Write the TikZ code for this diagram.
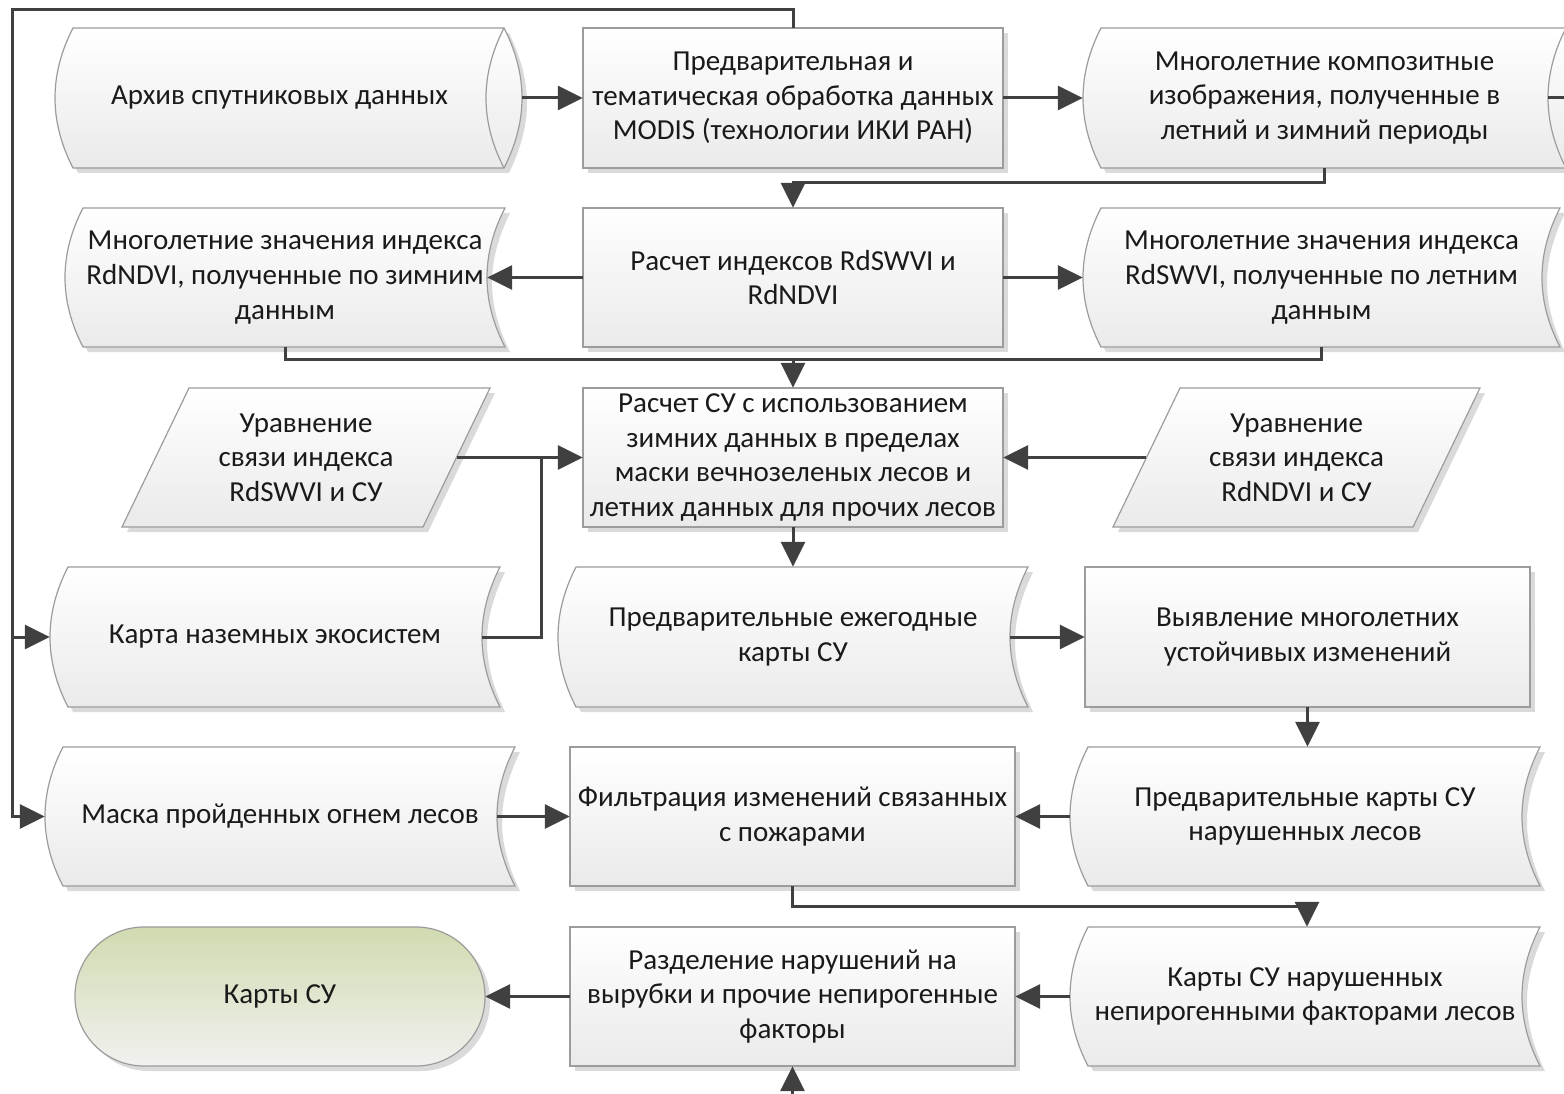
\documentclass[tikz,border=0pt]{standalone}
\usepackage{fontspec}
\setmainfont{Carlito}
\usetikzlibrary{arrows.meta,calc}
\definecolor{edgec}{HTML}{9C9C9C}
\definecolor{connc}{HTML}{404040}
\definecolor{botc}{HTML}{EAEAEA}
\definecolor{shadc}{HTML}{DADADA}
\definecolor{greentop}{HTML}{D0DBB0}
\definecolor{greenbot}{HTML}{F1F1EF}
\definecolor{txtc}{HTML}{1A1A1A}
\tikzset{
  conn/.style={draw=connc, line width=3pt},
  arr/.style={conn, -{Triangle[length=25pt,width=24pt]}},
  boxfill/.style={top color=white, bottom color=botc, draw=edgec, line width=1.2pt},
  shad/.style={fill=shadc},
  lbl/.style={inner sep=0pt, align=center, font=\fontsize{29}{34.7}\selectfont, text=txtc},
}
% rectangle: name x1 y1 x2 y2 text
\newcommand\mkrect[6]{%
  \pgfmathsetmacro\bw{#4-#2}\pgfmathsetmacro\bh{#5-#3}%
  \pgfmathsetmacro\cx{(#2+#4)/2}\pgfmathsetmacro\cy{(#3+#5)/2}%
  \fill[shad] ({#2+5},{#3+5}) rectangle ({#4+5},{#5+5});
  \path[boxfill] (#2,#3) rectangle (#4,#5);
  \node[lbl, minimum width=\bw pt, minimum height=\bh pt] (#1) at (\cx,\cy) {#6};
}
% stored data: convex left, concave right
\newcommand\storepath[4]{({#1+18},#2) -- (#3,#2) .. controls ({#3-24},{#2+(#4-#2)/3}) and ({#3-24},{#4-(#4-#2)/3}) .. (#3,#4) -- ({#1+18},#4) .. controls ({#1-6},{#4-(#4-#2)/3}) and ({#1-6},{#2+(#4-#2)/3}) .. ({#1+18},#2) -- cycle}
\newcommand\mkstore[6]{%
  \pgfmathsetmacro\bw{#4-#2}\pgfmathsetmacro\bh{#5-#3}%
  \pgfmathsetmacro\cx{(#2+#4)/2}\pgfmathsetmacro\cy{(#3+#5)/2}%
  \fill[shad] \storepath{#2+5}{#3+5}{#4+5}{#5+5};
  \path[boxfill] \storepath{#2}{#3}{#4}{#5};
  \node[lbl, minimum width=\bw pt, minimum height=\bh pt] (#1) at (\cx,\cy) {#6};
}
% horizontal cylinder: x2 = outer rightmost point
\newcommand\cylpath[4]{({#1+18},#2) -- ({#3-18},#2) .. controls ({#3+6},{#2+(#4-#2)/3}) and ({#3+6},{#4-(#4-#2)/3}) .. ({#3-18},#4) -- ({#1+18},#4) .. controls ({#1-6},{#4-(#4-#2)/3}) and ({#1-6},{#2+(#4-#2)/3}) .. ({#1+18},#2) -- cycle}
\newcommand\mkcyl[6]{%
  \pgfmathsetmacro\bw{#4-18-#2}\pgfmathsetmacro\bh{#5-#3}%
  \pgfmathsetmacro\cx{(#2+#4-18)/2}\pgfmathsetmacro\cy{(#3+#5)/2}%
  \fill[shad] \cylpath{#2+5}{#3+5}{#4+5}{#5+5};
  \path[boxfill] \cylpath{#2}{#3}{#4}{#5};
  \draw[edgec, line width=1.2pt] ({#4-18},#3) .. controls ({#4-42},{#3+(#5-#3)/3}) and ({#4-42},{#5-(#5-#3)/3}) .. ({#4-18},#5);
  \node[lbl, minimum width=\bw pt, minimum height=\bh pt] (#1) at (\cx,\cy) {#6};
}
% parallelogram: name xbl y1 xtr y2 text (slant 67)
\newcommand\parpath[4]{({#1+67},#2) -- (#3,#2) -- ({#3-67},#4) -- (#1,#4) -- cycle}
\newcommand\mkpar[6]{%
  \pgfmathsetmacro\bw{#4-#2-67}\pgfmathsetmacro\bh{#5-#3}%
  \pgfmathsetmacro\cx{(#2+#4)/2}\pgfmathsetmacro\cy{(#3+#5)/2}%
  \fill[shad] \parpath{#2+5}{#3+5}{#4+5}{#5+5};
  \path[boxfill] \parpath{#2}{#3}{#4}{#5};
  \node[lbl, minimum width=\bw pt, minimum height=\bh pt] (#1) at (\cx,\cy) {#6};
}
\begin{document}
\begin{tikzpicture}[x=1pt,y=-1pt]
\useasboundingbox (0,0) rectangle (1564,1094);
\clip (0,0) rectangle (1564,1094);
\fill[white] (0,0) rectangle (1564,1094);

% row 1
\mkcyl{arch}{55}{28}{522}{168}{Архив спутниковых данных}
\mkrect{pre}{583}{28}{1003}{168}{Предварительная и\\тематическая обработка данных\\MODIS (технологии ИКИ РАН)}
\mkcyl{comp}{1083}{28}{1584}{168}{Многолетние композитные\\изображения, полученные в\\летний и зимний периоды}
% row 2
\mkstore{lst}{65}{208}{505}{347}{Многолетние значения индекса\\RdNDVI, полученные по зимним\\данным}
\mkrect{idx}{583}{208}{1003}{347}{Расчет индексов RdSWVI и\\RdNDVI}
\mkstore{rst}{1083}{208}{1560}{347}{Многолетние значения индекса\\RdSWVI, полученные по летним\\данным}
% row 3
\mkpar{lpar}{122}{388}{490}{527}{Уравнение\\связи индекса\\RdSWVI и СУ}
\mkrect{su}{583}{388}{1003}{527}{Расчет СУ с использованием\\зимних данных в пределах\\маски вечнозеленых лесов и\\летних данных для прочих лесов}
\mkpar{rpar}{1113}{388}{1480}{527}{Уравнение\\связи индекса\\RdNDVI и СУ}
% row 4
\mkstore{eco}{50}{567}{500}{707}{Карта наземных экосистем}
\mkstore{pre2}{558}{567}{1028}{707}{Предварительные ежегодные\\карты СУ}
\mkrect{det}{1085}{567}{1530}{707}{Выявление многолетних\\устойчивых изменений}
% row 5
\mkstore{mask}{45}{747}{515}{886}{Маска пройденных огнем лесов}
\mkrect{filt}{570}{747}{1015}{886}{Фильтрация изменений связанных\\с пожарами}
\mkstore{dist}{1070}{747}{1540}{886}{Предварительные карты СУ\\нарушенных лесов}
% row 6
\fill[shad, rounded corners=69pt] (80,932) rectangle (490,1071);
\path[top color=greentop, bottom color=greenbot, draw=edgec, line width=1.2pt, rounded corners=69pt] (75,927) rectangle (485,1066);
\node[lbl, minimum width=410pt, minimum height=139pt] (res) at (280,996.5) {Карты СУ};
\mkrect{sep}{570}{927}{1015}{1066}{Разделение нарушений на\\вырубки и прочие непирогенные\\факторы}
\mkstore{npf}{1070}{927}{1540}{1066}{Карты СУ нарушенных\\непирогенными факторами лесов}

% connectors
\coordinate (lt) at (12,10);
\coordinate (offr) at (1600,98);
\coordinate (offb) at (792.5,1110);
\coordinate (j3) at (541,457);
\draw[arr] ($(arch.east)+(18,0)$) -- (pre.west);
\draw[arr] (pre.east) -- (comp.west);
\draw[conn] ($(comp.east)+(-18,0)$) -- (offr);
\draw[arr] (pre.north) |- (lt) |- (mask.west);
\draw[arr] (lt |- eco.west) -- (eco.west);
\draw[arr] (comp.south) |- ($(idx.north)+(0,-25)$) -- (idx.north);
\draw[arr] (idx.west) -- ($(lst.east)+(-18,0)$);
\draw[arr] (idx.east) -- (rst.west);
\coordinate (j2) at ($(su.north)+(0,-28)$);
\draw[conn] (lst.south) |- (j2) -| (rst.south);
\draw[arr] (j2) -- (su.north);
\draw[arr] (lpar.east) -- (su.west);
\draw[conn] ($(eco.east)+(-18,0)$) -| (j3);
\draw[arr] (rpar.west) -- (su.east);
\draw[arr] (su.south) -- (pre2.north);
\draw[arr] ($(pre2.east)+(-18,0)$) -- (det.west);
\draw[arr] (det.south) -- (det.south |- dist.north);
\draw[arr] (dist.west) -- (filt.east);
\draw[arr] ($(mask.east)+(-18,0)$) -- (filt.west);
\draw[arr] (filt.south) |- ($(npf.north)+(2,-20)$) -- ($(npf.north)+(2,0)$);
\draw[arr] (npf.west) -- (sep.east);
\draw[arr] (sep.west) -- (res.east);
\draw[arr] (offb) -- (sep.south);
\end{tikzpicture}
\end{document}
